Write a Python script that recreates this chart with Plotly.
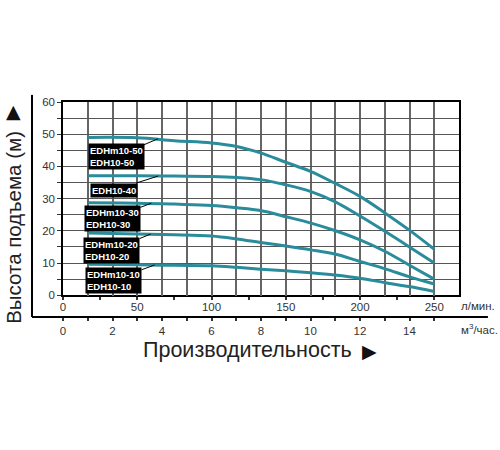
import plotly.graph_objects as go

# flow in l/min and head in m
flow = [17, 50, 75, 100, 117, 133, 150, 167, 183, 200, 217, 233, 250]
head_50 = [49.0, 48.9, 48.0, 47.3, 46.2, 44.2, 41.3, 38.4, 34.8, 30.7, 25.5, 20.3, 14.3]
head_40 = [37.1, 37.1, 37.0, 36.9, 36.6, 35.9, 34.3, 32.2, 29.1, 24.6, 19.8, 15.1, 10.0]
head_30 = [28.7, 28.6, 28.3, 27.9, 27.2, 26.3, 24.4, 22.4, 20.1, 17.2, 13.6, 9.4, 5.0]
head_20 = [19.3, 19.0, 18.8, 18.4, 17.5, 16.4, 15.3, 14.1, 12.8, 10.5, 8.2, 5.8, 3.5]
head_10 = [9.6, 9.5, 9.3, 9.2, 8.7, 8.1, 7.6, 7.0, 6.3, 5.3, 3.9, 2.7, 1.2]

models = ["EDHm10-50<br>EDH10-50", "EDH10-40", "EDHm10-30<br>EDH10-30",
          "EDHm10-20<br>EDH10-20", "EDHm10-10<br>EDH10-10"]
heads = [head_50, head_40, head_30, head_20, head_10]

# where each label points on its curve (l/min, m)
label_x = [64, 64, 59.5, 59, 61.7]
label_y = [48.6, 37.0, 28.6, 19.0, 9.4]
label_ax = [-42, -44, -39, -39, -41]
label_ay = [18, 14, 15, 16, 15]

m3h_to_lpm = 1000 / 60
m3h_ticks = list(range(0, 17))
lpm_small_ticks = list(range(0, 251, 25))
head_ticks = list(range(0, 61, 5))

teal = "#2a8c9b"
grid = "#555555"
font = "Liberation Sans, Arial, sans-serif"

fig = go.Figure()
for h in heads:
    fig.add_trace(go.Scatter(x=flow, y=h, mode="lines", line_shape="spline",
                             line=dict(color=teal, width=3), showlegend=False,
                             hoverinfo="skip"))

# empty traces so the helper axes (m3/h labels, small ticks) get drawn
for xa, ya in [("x2", "y2"), ("x3", "y3")]:
    fig.add_trace(go.Scatter(x=[0], y=[None], xaxis=xa, yaxis=ya, mode="none",
                             showlegend=False, hoverinfo="skip"))

for i in range(len(models)):
    fig.add_annotation(x=label_x[i], y=label_y[i], ax=label_ax[i], ay=label_ay[i],
                       text="<b>" + models[i] + "</b>", showarrow=True, arrowhead=0,
                       arrowwidth=1, arrowcolor="black", bgcolor="black", borderpad=1,
                       font=dict(family=font, size=9.5, color="white"), align="left")

# grid every 1 m3/h, labels every 50 l/min (= every 3 m3/h)
grid_vals = [v * m3h_to_lpm for v in m3h_ticks]
grid_text = [str(round(v * m3h_to_lpm)) if v % 3 == 0 else "" for v in m3h_ticks]

fig.update_layout(
    width=500, height=450,
    margin=dict(l=63, r=41, t=102, b=133),
    plot_bgcolor="rgba(0,0,0,0)", paper_bgcolor="white",
    font=dict(family=font, size=11.5, color="#333333"),
    xaxis=dict(range=[0, 800 / 3], domain=[0, 1], anchor="y",
               tickvals=grid_vals, ticktext=grid_text,
               ticks="inside", ticklen=1, tickcolor="#666666", tickwidth=1.6,
               showgrid=True, gridcolor="#666666", gridwidth=1.6, zeroline=False,
               showline=True, linecolor="black", linewidth=1.5, mirror=True),
    yaxis=dict(range=[0, 60], domain=[0.101, 1], anchor="x",
               tickvals=head_ticks,
               ticktext=[str(v) if v % 10 == 0 else "" for v in head_ticks],
               ticks="outside", ticklen=4, tickcolor="#333333",
               showgrid=True, gridcolor=grid, gridwidth=1, zeroline=False,
               showline=True, linecolor="black", linewidth=1.5, mirror=True),
    # m3/h labels under the outer frame line
    xaxis2=dict(range=[0, 16], domain=[0, 1], anchor="y2",
                tickvals=m3h_ticks[:-1],
                ticktext=[str(v) if v % 2 == 0 else "" for v in m3h_ticks[:-1]],
                ticks="outside", ticklen=3, tickcolor="#333333", tickwidth=1.6,
                showgrid=False, zeroline=False, showline=False),
    yaxis2=dict(range=[0, 1], domain=[0, 0.001], anchor="x2", visible=False),
    # small l/min ticks just under the plot
    xaxis3=dict(range=[0, 800 / 3], domain=[0, 1], anchor="y3",
                tickvals=lpm_small_ticks, showticklabels=False,
                ticks="outside", ticklen=3, tickcolor="#333333", tickwidth=1.6,
                showgrid=False, zeroline=False, showline=False),
    yaxis3=dict(range=[0, 1], domain=[0.0995, 0.1005], anchor="x3", visible=False),
)

# L-shaped outer frame
fig.add_shape(type="line", xref="paper", yref="paper", x0=-0.0783, x1=-0.0783,
              y0=0, y1=1.033, line=dict(color="black", width=2))
fig.add_shape(type="line", xref="paper", yref="paper", x0=-0.0783, x1=1.073,
              y0=0, y1=0, line=dict(color="black", width=2))

# axis titles and unit labels
fig.add_annotation(xref="paper", yref="paper", x=-0.125, y=0.417, textangle=-90,
                   xanchor="center", yanchor="middle",
                   text="Высота подъема (м)", showarrow=False,
                   font=dict(size=20.5, color="#222222"))
fig.add_annotation(xref="paper", yref="paper", x=-0.125, y=0.958, text="▲",
                   xanchor="center", yanchor="middle",
                   showarrow=False, font=dict(family="DejaVu Sans", size=19, color="#111111"))
fig.add_annotation(xref="paper", yref="paper", x=0.465, y=-0.153,
                   xanchor="center", yanchor="middle",
                   text="Производительность", showarrow=False,
                   font=dict(size=21.5, color="#222222"))
fig.add_annotation(xref="paper", yref="paper", x=0.773, y=-0.158, text="▶",
                   xanchor="center", yanchor="middle",
                   showarrow=False, font=dict(family="DejaVu Sans", size=19, color="#111111"))
fig.add_annotation(xref="paper", yref="paper", x=1.048, y=0.05, text="л/мин.",
                   xanchor="center", yanchor="middle",
                   showarrow=False, font=dict(size=11.5, color="#333333"))
fig.add_annotation(xref="paper", yref="paper", x=1.053, y=-0.058,
                   xanchor="center", yanchor="middle",
                   text="м<sup>3</sup>/час.", showarrow=False,
                   font=dict(size=11.5, color="#333333"))

# page body has an 8px default margin; drop it so the figure sits at the corner
fig.write_html("out.html", config={"displayModeBar": False},
               post_script="document.body.style.margin = '0';")
